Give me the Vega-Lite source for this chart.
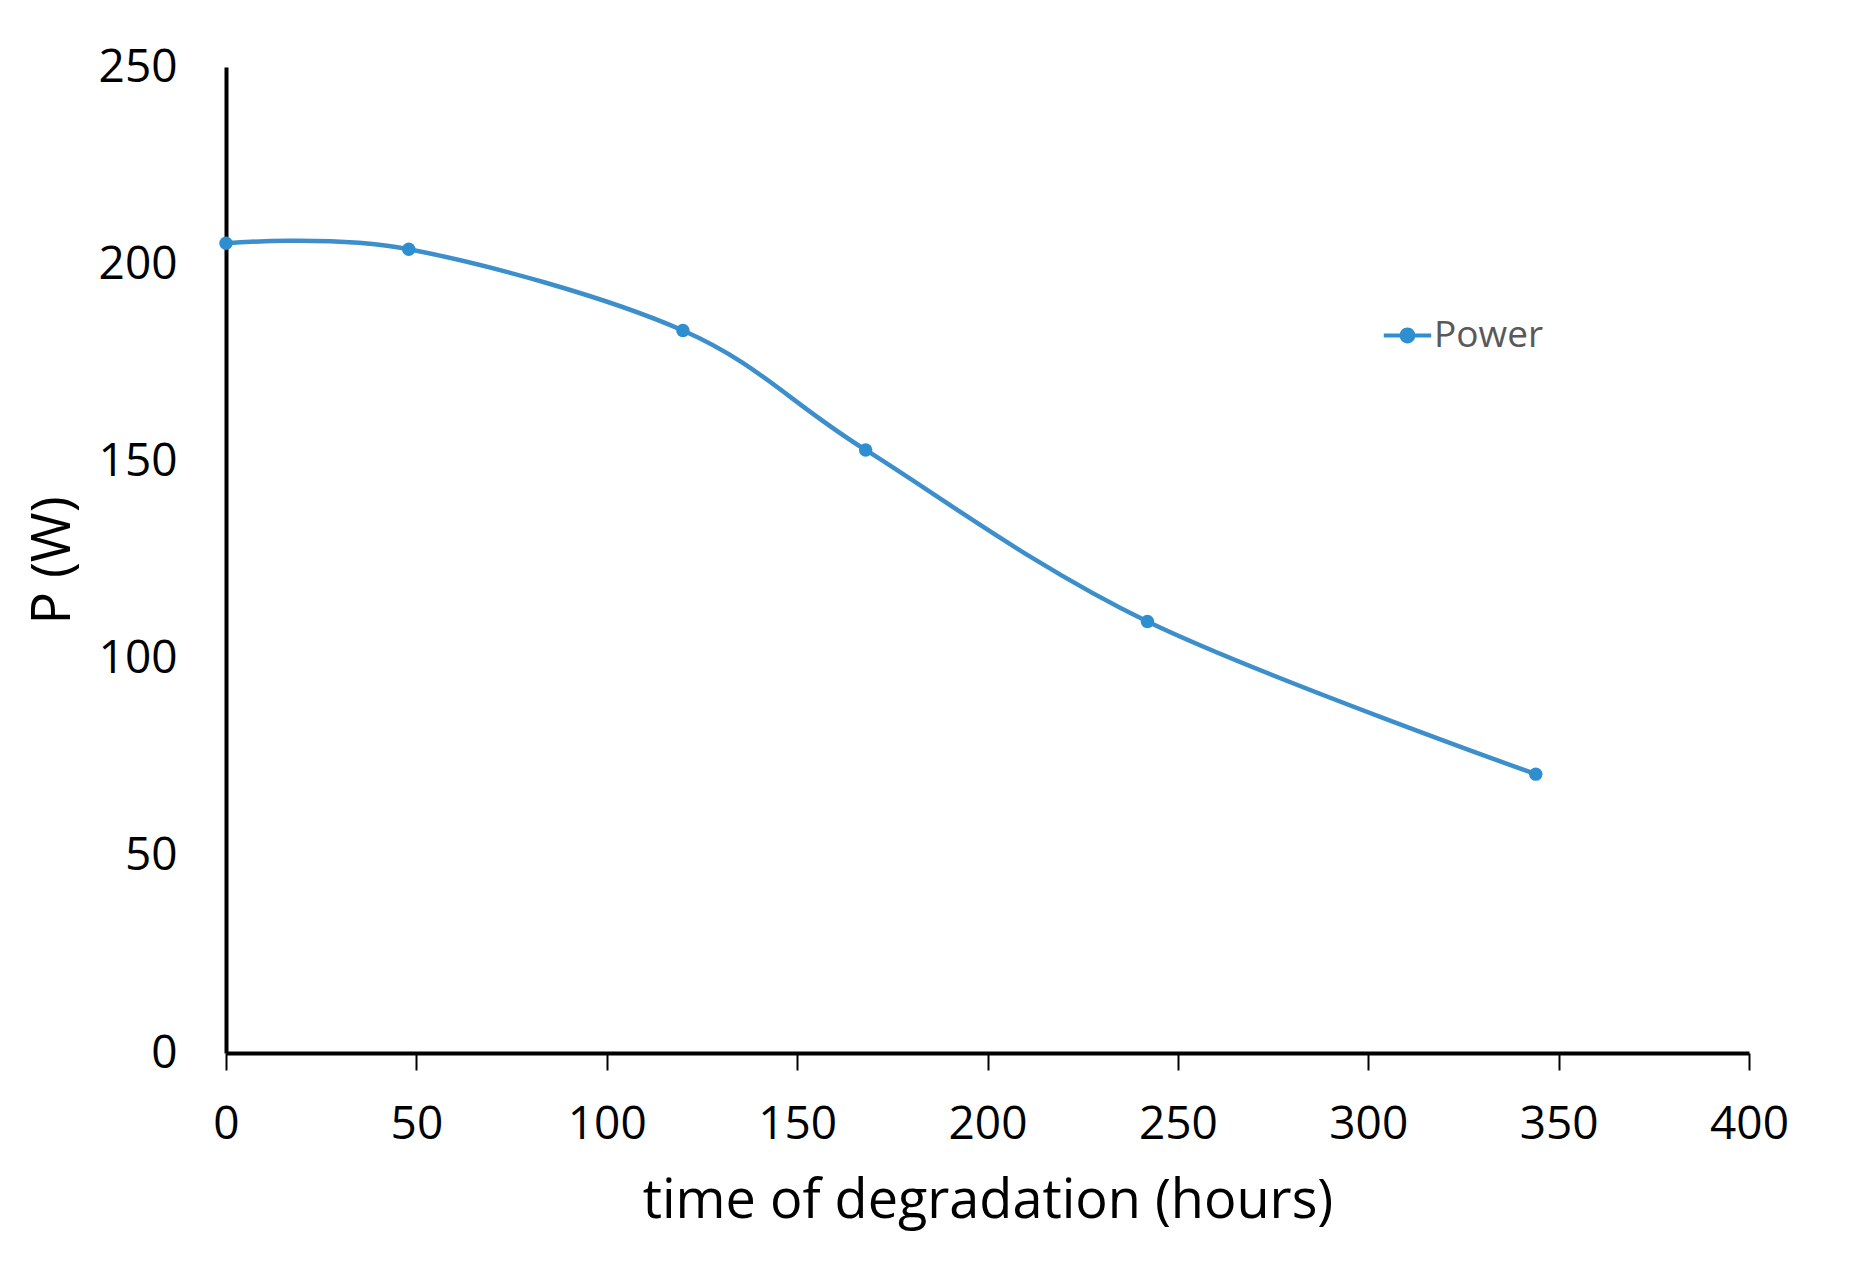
{
  "$schema": "https://vega.github.io/schema/vega-lite/v6.json",
  "autosize": {"type": "none"},
  "width": 1523,
  "height": 986,
  "padding": {"left": 226, "top": 67, "right": 106, "bottom": 220},
  "background": "white",
  "data": {"values": [
    {"hours": 0, "power": 205.3, "series": "Power"},
    {"hours": 48, "power": 203.8, "series": "Power"},
    {"hours": 120, "power": 183.2, "series": "Power"},
    {"hours": 168, "power": 152.9, "series": "Power"},
    {"hours": 242, "power": 109.4, "series": "Power"},
    {"hours": 344, "power": 70.7, "series": "Power"}
  ]},
  "config": {
    "view": {"stroke": null},
    "font": "Open Sans",
    "axis": {"grid": false, "domainColor": "black", "domainWidth": 4, "labelColor": "black", "titleColor": "black", "labelFont": "Open Sans", "titleFont": "Open Sans", "titleFontWeight": "normal"}
  },
  "layer": [
    {
      "mark": {"type": "line", "interpolate": "cardinal", "tension": 0, "color": "#3d8fcb", "strokeWidth": 4.5},
      "encoding": {
        "x": {"field": "hours", "type": "quantitative", "scale": {"domain": [0, 400], "nice": false},
          "axis": {"values": [0, 50, 100, 150, 200, 250, 300, 350, 400], "title": "time of degradation (hours)", "labelFontSize": 46, "titleFontSize": 54, "tickSize": 17, "tickWidth": 2, "tickColor": "black", "labelPadding": 32, "titlePadding": 27, "labelFlush": false}},
        "y": {"field": "power", "type": "quantitative", "scale": {"domain": [0, 250], "nice": false},
          "axis": {"values": [0, 50, 100, 150, 200, 250], "title": "P (W)", "labelFontSize": 46, "titleFontSize": 54, "ticks": false, "labelPadding": 49, "titlePadding": 18}}
      }
    },
    {
      "mark": {"type": "point", "filled": true, "size": 180, "opacity": 1},
      "encoding": {
        "x": {"field": "hours", "type": "quantitative"},
        "y": {"field": "power", "type": "quantitative"},
        "color": {"field": "series", "type": "nominal", "scale": {"range": ["#2e8fd0"]},
          "legend": {"title": null, "orient": "none", "legendX": 1163, "legendY": 250,
            "symbolType": "M-1.5,-0.12L1.5,-0.12L1.5,0.12L-1.5,0.12Z M-0.5,0A0.5,0.5 0 1,1 0.5,0A0.5,0.5 0 1,1 -0.5,0Z",
            "symbolSize": 1000, "symbolStrokeWidth": 0, "symbolFillColor": "#3d8fcb",
            "labelFontSize": 37, "labelColor": "#595959", "labelFont": "Open Sans", "labelOffset": 8}}
      }
    }
  ]
}
